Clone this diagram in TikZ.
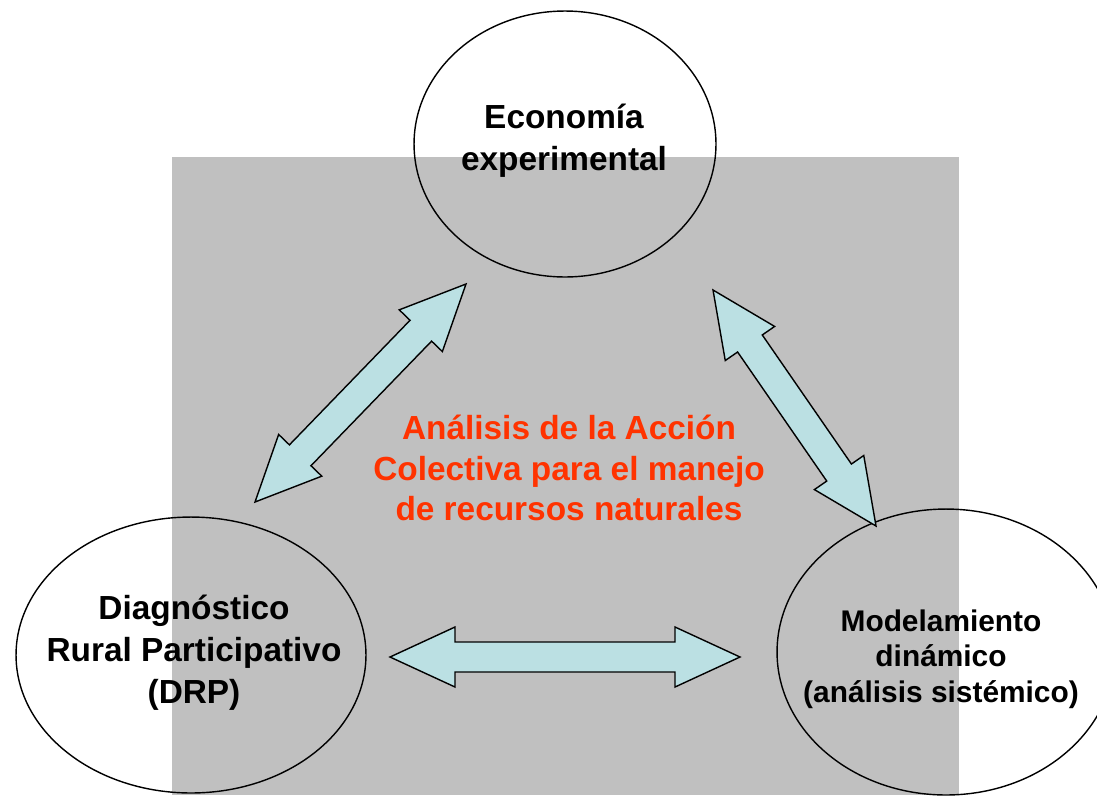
\documentclass[tikz,border=0pt]{standalone}
\usepackage{fontspec}
\setmainfont{Liberation Sans}
\usetikzlibrary{calc,shapes.geometric}

\definecolor{panelgray}{HTML}{C0C0C0}
\definecolor{arrowcyan}{HTML}{BBE0E3}
\definecolor{titlered}{HTML}{FF3300}

\tikzset{
  bubble/.style={draw=black, line width=0.8pt, ellipse, inner sep=0pt},
  bubbletext/.style={font=\bfseries\fontsize{19}{23.8}\selectfont, align=center},
  blockarrow/.style={draw=black, line width=0.8pt, fill=arrowcyan, line join=miter},
}

% double block arrow from #1 to #2
\newcommand{\dblarrow}[2]{%
  \draw[blockarrow] (#1)
    -- ($(#1)!1.3cm!(#2)!0.6cm!90:(#2)$)
    -- ($(#1)!1.3cm!(#2)!0.3cm!90:(#2)$)
    -- ($(#2)!1.3cm!(#1)!0.3cm!-90:(#1)$)
    -- ($(#2)!1.3cm!(#1)!0.6cm!-90:(#1)$)
    -- (#2)
    -- ($(#2)!1.3cm!(#1)!0.6cm!90:(#1)$)
    -- ($(#2)!1.3cm!(#1)!0.3cm!90:(#1)$)
    -- ($(#1)!1.3cm!(#2)!0.3cm!-90:(#2)$)
    -- ($(#1)!1.3cm!(#2)!0.6cm!-90:(#2)$)
    -- cycle;}

\begin{document}
\begin{tikzpicture}[x=0.02cm, y=-0.02cm]
\useasboundingbox (0,0) rectangle (1097,795);

\fill[panelgray] (172,157) rectangle (959,795);

\node[bubble, minimum width=6.04cm, minimum height=5.32cm] (econ) at (565,144) {};
\node[bubble, minimum width=7.0cm, minimum height=5.52cm] (drp) at (191,655) {};
\node[bubble, minimum width=6.76cm, minimum height=5.72cm] (model) at (946,652) {};

\coordinate (drptop) at (255,502);
\coordinate (econleft) at (466,284);
\coordinate (econright) at (713,290);
\coordinate (modeltop) at (876,526);
\coordinate (drpright) at (390,657);
\coordinate (modelleft) at (740,657);

\dblarrow{drptop}{econleft}
\dblarrow{econright}{modeltop}
\dblarrow{drpright}{modelleft}

\node[bubbletext] (econtext) at (564,141) {Economía\\experimental};
\node[bubbletext] (drptext) at (194,653) {Diagnóstico\\Rural Participativo\\(DRP)};
\node[bubbletext, font=\bfseries\fontsize{17}{20.1}\selectfont] (modeltext) at (941,659)
  {Modelamiento\\dinámico\\(análisis sistémico)};

\node[bubbletext, text=titlered, font=\bfseries\fontsize{19}{23}\selectfont] (title) at (569,468)
  {Análisis de la Acción\\Colectiva para el manejo\\de recursos naturales};
\end{tikzpicture}
\end{document}
